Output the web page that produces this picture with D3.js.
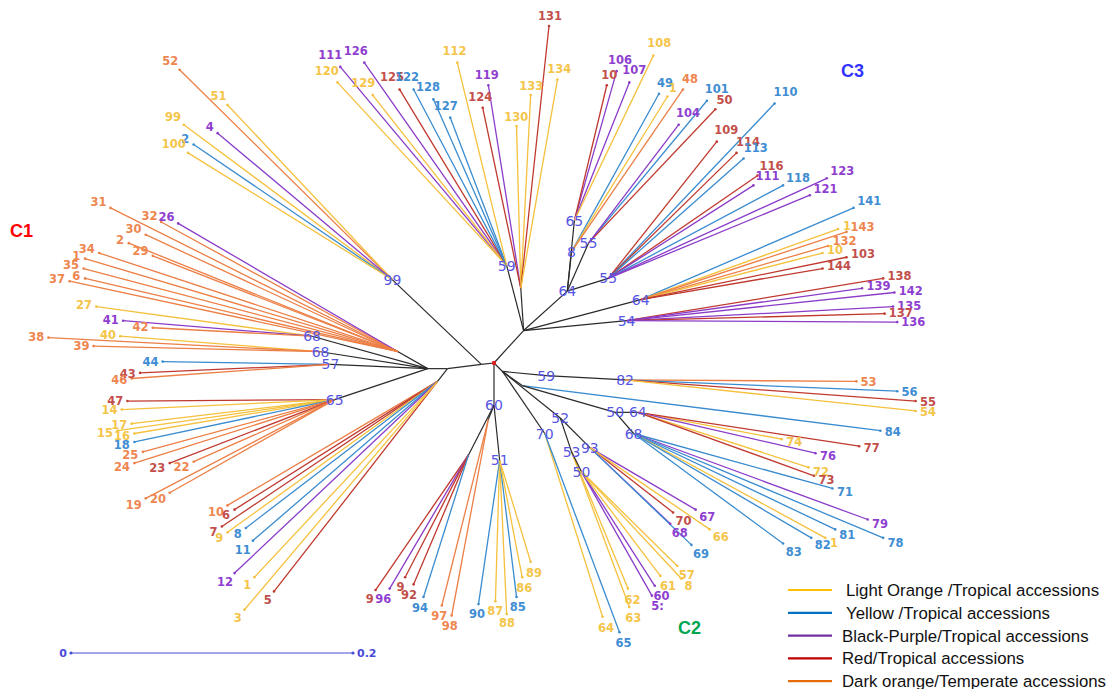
<!DOCTYPE html>
<meta charset="utf-8">
<script src="https://d3js.org/d3.v7.min.js"></script>
<style>
body { margin: 0; background: #fff; }
svg text { font-family: "DejaVu Sans", sans-serif; }
</style>
<div id="tree"></div>
<script>
// internal nodes: [id, parent, x, y, bootstrap]  (x, y in genetic distance from the root)
var nodes = [
  ["R", null, 0, 0, ""],
  ["A", "R", 0.021, -0.023, ""],
  ["T", "A", 0.009, -0.069, "59"],
  ["TR", "A", 0.019, -0.053, ""],
  ["N64a", "A", 0.052, -0.051, "64"],
  ["N65", "N64a", 0.057, -0.101, "65"],
  ["N8", "N64a", 0.055, -0.079, "8"],
  ["N55a", "N64a", 0.067, -0.085, "55"],
  ["N55b", "N64a", 0.081, -0.060, "55"],
  ["N64b", "A", 0.104, -0.045, "64"],
  ["N54", "A", 0.094, -0.030, "54"],
  ["Rr", "R", 0.006, 0.006, ""],
  ["N59", "Rr", 0.037, 0.009, "59"],
  ["N82", "N59", 0.093, 0.012, "82"],
  ["Rb", "Rr", 0.020, 0.016, ""],
  ["N50c", "Rb", 0.086, 0.035, "50"],
  ["N64c", "N50c", 0.102, 0.035, "64"],
  ["N68c", "N50c", 0.099, 0.050, "68"],
  ["N52", "Rr", 0.047, 0.039, "52"],
  ["N93", "N52", 0.068, 0.060, "93"],
  ["N70", "Rr", 0.036, 0.050, "70"],
  ["N53", "N52", 0.055, 0.063, "53"],
  ["N50d", "N53", 0.062, 0.077, "50"],
  ["N60", "R", 0, 0.030, "60"],
  ["NdL", "N60", -0.018, 0.065, ""],
  ["Nd2", "N60", -0.004, 0.040, ""],
  ["N51", "N60", 0.004, 0.069, "51"],
  ["Lb", "R", -0.009, 0.001, ""],
  ["P99", "Lb", -0.072, -0.059, "99"],
  ["Lc", "Lb", -0.033, 0.004, ""],
  ["LL", "Lc", -0.040, 0.013, ""],
  ["Ld", "Lc", -0.047, 0.004, ""],
  ["Nup", "Ld", -0.068, -0.008, ""],
  ["N68a", "Ld", -0.129, -0.019, "68"],
  ["N68b", "Ld", -0.123, -0.008, "68"],
  ["N57", "Ld", -0.116, 0.001, "57"],
  ["N65L", "Ld", -0.113, 0.026, "65"]
];

// leaves: [label, group, parent, x, y]
var leavesTopLeft = [
  ["52", "do", "P99", -0.223, -0.208],
  ["51", "lo", "P99", -0.189, -0.183],
  ["99", "lo", "P99", -0.220, -0.169],
  ["4", "bp", "P99", -0.196, -0.163],
  ["2", "yb", "P99", -0.213, -0.155],
  ["100", "lo", "P99", -0.217, -0.149]
];
var leavesC1 = [
  ["31", "do", "Nup", -0.272, -0.110],
  ["32", "do", "Nup", -0.236, -0.100],
  ["26", "bp", "Nup", -0.224, -0.099],
  ["30", "do", "Nup", -0.247, -0.091],
  ["2", "do", "Nup", -0.259, -0.085],
  ["29", "do", "Nup", -0.242, -0.076],
  ["34", "do", "Nup", -0.280, -0.078],
  ["1", "do", "Nup", -0.290, -0.074],
  ["35", "do", "Nup", -0.291, -0.067],
  ["6", "do", "Nup", -0.290, -0.060],
  ["37", "do", "Nup", -0.301, -0.058],
  ["27", "lo", "N68a", -0.282, -0.040],
  ["41", "bp", "N68a", -0.263, -0.030],
  ["42", "do", "N68a", -0.242, -0.025],
  ["40", "lo", "N68b", -0.265, -0.019],
  ["38", "do", "N68b", -0.316, -0.018],
  ["39", "do", "N68b", -0.284, -0.012],
  ["44", "yb", "N57", -0.235, -0.001],
  ["43", "rd", "N57", -0.251, 0.007],
  ["46", "do", "N57", -0.257, 0.011],
  ["47", "rd", "N65L", -0.260, 0.027],
  ["14", "lo", "N65L", -0.264, 0.033],
  ["17", "lo", "N65L", -0.257, 0.043],
  ["15", "lo", "N65L", -0.267, 0.048],
  ["16", "lo", "N65L", -0.255, 0.050],
  ["18", "yb", "N65L", -0.255, 0.056],
  ["25", "do", "N65L", -0.249, 0.063],
  ["24", "do", "N65L", -0.255, 0.071],
  ["23", "rd", "N65L", -0.230, 0.071],
  ["22", "do", "N65L", -0.213, 0.070],
  ["19", "do", "N65L", -0.247, 0.096],
  ["20", "do", "N65L", -0.230, 0.092],
  ["10", "do", "LL", -0.189, 0.101],
  ["6", "rd", "LL", -0.184, 0.104],
  ["7", "rd", "LL", -0.193, 0.116],
  ["9", "lo", "LL", -0.189, 0.120],
  ["8", "yb", "LL", -0.176, 0.117],
  ["11", "yb", "LL", -0.171, 0.126],
  ["12", "bp", "LL", -0.184, 0.149],
  ["1", "lo", "LL", -0.170, 0.152],
  ["5", "rd", "LL", -0.156, 0.162],
  ["3", "lo", "LL", -0.177, 0.175]
];
var leavesTop = [
  ["111", "bp", "T", -0.109, -0.210],
  ["126", "bp", "T", -0.092, -0.213],
  ["120", "lo", "T", -0.111, -0.199],
  ["129", "lo", "T", -0.086, -0.190],
  ["125", "rd", "T", -0.067, -0.194],
  ["122", "yb", "T", -0.057, -0.194],
  ["128", "yb", "T", -0.043, -0.187],
  ["127", "yb", "T", -0.031, -0.174],
  ["112", "lo", "T", -0.026, -0.213],
  ["119", "bp", "TR", -0.004, -0.197],
  ["124", "rd", "TR", -0.008, -0.181],
  ["130", "lo", "TR", 0.016, -0.168],
  ["133", "lo", "TR", 0.026, -0.190],
  ["131", "rd", "TR", 0.039, -0.239],
  ["134", "lo", "TR", 0.045, -0.201]
];
var leavesC3 = [
  ["106", "bp", "N65", 0.087, -0.207],
  ["10", "rd", "N65", 0.080, -0.197],
  ["107", "bp", "N65", 0.096, -0.199],
  ["108", "lo", "N65", 0.113, -0.218],
  ["49", "yb", "N8", 0.117, -0.191],
  ["1", "lo", "N8", 0.123, -0.189],
  ["48", "do", "N8", 0.134, -0.194],
  ["101", "yb", "N55a", 0.151, -0.186],
  ["50", "rd", "N55a", 0.157, -0.180],
  ["104", "bp", "N55a", 0.131, -0.169],
  ["110", "yb", "N55b", 0.199, -0.184],
  ["109", "rd", "N55b", 0.158, -0.157],
  ["114", "rd", "N55b", 0.172, -0.149],
  ["113", "yb", "N55b", 0.177, -0.145],
  ["116", "rd", "N55b", 0.187, -0.133],
  ["111", "bp", "N55b", 0.184, -0.126],
  ["118", "yb", "N55b", 0.205, -0.126],
  ["123", "bp", "N55b", 0.236, -0.131],
  ["121", "bp", "N55b", 0.224, -0.119],
  ["141", "yb", "N64b", 0.255, -0.110],
  ["1", "lo", "N64b", 0.244, -0.095],
  ["143", "do", "N64b", 0.250, -0.093],
  ["132", "do", "N64b", 0.237, -0.083],
  ["10", "lo", "N64b", 0.233, -0.078],
  ["103", "rd", "N64b", 0.250, -0.075],
  ["144", "rd", "N64b", 0.233, -0.067],
  ["138", "rd", "N54", 0.276, -0.060],
  ["139", "bp", "N54", 0.261, -0.053],
  ["142", "bp", "N54", 0.284, -0.050],
  ["135", "bp", "N54", 0.283, -0.040],
  ["137", "rd", "N54", 0.277, -0.035],
  ["136", "bp", "N54", 0.286, -0.029]
];
var leavesRight = [
  ["53", "do", "N82", 0.257, 0.013],
  ["56", "yb", "N82", 0.286, 0.020],
  ["55", "rd", "N82", 0.299, 0.027],
  ["54", "lo", "N82", 0.299, 0.034],
  ["84", "yb", "Rb", 0.274, 0.048],
  ["74", "lo", "N64c", 0.204, 0.054],
  ["77", "rd", "N64c", 0.259, 0.059],
  ["76", "bp", "N64c", 0.228, 0.064],
  ["72", "lo", "N64c", 0.223, 0.074],
  ["73", "rd", "N64c", 0.227, 0.080],
  ["71", "yb", "N68c", 0.240, 0.089],
  ["79", "bp", "N68c", 0.265, 0.111],
  ["78", "yb", "N68c", 0.276, 0.124],
  ["81", "yb", "N68c", 0.242, 0.118],
  ["1", "lo", "N68c", 0.235, 0.124],
  ["82", "yb", "N68c", 0.225, 0.124],
  ["83", "yb", "N68c", 0.205, 0.128],
  ["70", "rd", "N93", 0.127, 0.106],
  ["67", "bp", "N93", 0.143, 0.104],
  ["68", "bp", "N93", 0.125, 0.114],
  ["69", "yb", "N93", 0.140, 0.129],
  ["66", "lo", "N93", 0.153, 0.118],
  ["64", "lo", "N70", 0.077, 0.180],
  ["65", "yb", "N70", 0.089, 0.191],
  ["62", "lo", "N53", 0.095, 0.160],
  ["63", "lo", "N53", 0.096, 0.173],
  ["60", "bp", "N50d", 0.114, 0.158],
  ["5:", "bp", "N50d", 0.112, 0.165],
  ["61", "lo", "N50d", 0.118, 0.151],
  ["57", "lo", "N50d", 0.130, 0.144],
  ["8", "lo", "N50d", 0.133, 0.153]
];
var leavesBottom = [
  ["9", "rd", "NdL", -0.084, 0.161],
  ["96", "bp", "NdL", -0.074, 0.160],
  ["9", "rd", "NdL", -0.063, 0.152],
  ["92", "rd", "NdL", -0.057, 0.157],
  ["94", "yb", "NdL", -0.050, 0.166],
  ["97", "do", "Nd2", -0.037, 0.172],
  ["98", "do", "Nd2", -0.030, 0.179],
  ["90", "yb", "N51", -0.011, 0.171],
  ["87", "lo", "N51", 0.001, 0.169],
  ["88", "lo", "N51", 0.009, 0.178],
  ["85", "yb", "N51", 0.016, 0.166],
  ["86", "lo", "N51", 0.020, 0.152],
  ["89", "lo", "N51", 0.026, 0.141]
];

var groupKeys = ["lo", "yb", "bp", "rd", "do"];
var groupNames = ["Light Orange /Tropical accessions", "Yellow /Tropical accessions",
                  "Black-Purple/Tropical accessions", "Red/Tropical accessions",
                  "Dark orange/Temperate accessions"];

// styles
var lineColor = {lo: "#f5c13c", yb: "#3a8ccf", bp: "#8a3cc8", rd: "#c0392f", do: "#ec7f45"};
var textColor = {lo: "#f4c54a", yb: "#3f8dd2", bp: "#8f3fd0", rd: "#c24f4b", do: "#ee8650"};
var legendColor = {lo: "#FFC000", yb: "#0070C0", bp: "#7030A0", rd: "#C00000", do: "#E46C0A"};

var width = 1111, height = 689;
var cx = 494, cy = 363, barPx = 282;

var svg = d3.select("#tree").append("svg")
  .attr("width", width)
  .attr("height", height);

// distance scales (0.2 on the scale bar)
var x = d3.scaleLinear().domain([0, 0.2]).range([cx, cx + barPx]);
var y = d3.scaleLinear().domain([0, 0.2]).range([cy, cy + barPx]);

var nodeById = {};
nodes.forEach(function(n) {
  nodeById[n[0]] = {id: n[0], parent: n[1], x: n[2], y: n[3], label: n[4]};
});
var leaves = [].concat(leavesTopLeft, leavesC1, leavesTop, leavesC3, leavesRight, leavesBottom)
  .map(function(l) { return {label: l[0], group: l[1], parent: l[2], x: l[3], y: l[4]}; });
var internal = nodes.filter(function(n) { return n[1]; }).map(function(n) { return nodeById[n[0]]; });

// leaf branches
svg.append("g").selectAll("line")
  .data(leaves)
  .enter()
  .append("line")
    .attr("x1", function(d) { return x(nodeById[d.parent].x); })
    .attr("y1", function(d) { return y(nodeById[d.parent].y); })
    .attr("x2", function(d) { return x(d.x); })
    .attr("y2", function(d) { return y(d.y); })
    .style("stroke", function(d) { return lineColor[d.group]; })
    .style("stroke-width", 1.3);

svg.append("g").selectAll("circle")
  .data(leaves)
  .enter()
  .append("circle")
    .attr("cx", function(d) { return x(d.x); })
    .attr("cy", function(d) { return y(d.y); })
    .attr("r", 1.3)
    .style("fill", function(d) { return lineColor[d.group]; });

// internal branches
svg.append("g").selectAll("line")
  .data(internal)
  .enter()
  .append("line")
    .attr("x1", function(d) { return x(nodeById[d.parent].x); })
    .attr("y1", function(d) { return y(nodeById[d.parent].y); })
    .attr("x2", function(d) { return x(d.x); })
    .attr("y2", function(d) { return y(d.y); })
    .style("stroke", "#2a2a2a")
    .style("stroke-width", 1.2);

svg.append("circle")
  .attr("cx", x(0)).attr("cy", y(0)).attr("r", 2.2)
  .style("fill", "#e02020");

// leaf labels, pushed outward along the branch
svg.append("g").selectAll("text")
  .data(leaves)
  .enter()
  .append("text")
    .text(function(d) { return d.label; })
    .attr("text-anchor", "middle")
    .attr("dy", "0.36em")
    .style("font-size", "11.5px")
    .style("font-weight", "bold")
    .style("fill", function(d) { return textColor[d.group]; })
    .each(function(d) {
      var p = nodeById[d.parent];
      var dx = x(d.x) - x(p.x), dy = y(d.y) - y(p.y);
      var len = Math.sqrt(dx * dx + dy * dy);
      var ux = dx / len, uy = dy / len;
      var w = this.getComputedTextLength();
      var off = 4 + Math.abs(ux) * w / 2 + Math.abs(uy) * 5;
      d3.select(this)
        .attr("x", x(d.x) + ux * off)
        .attr("y", y(d.y) + uy * off);
    });

// bootstrap values
svg.append("g").selectAll("text")
  .data(internal.filter(function(d) { return d.label; }))
  .enter()
  .append("text")
    .attr("x", function(d) { return x(d.x); })
    .attr("y", function(d) { return y(d.y); })
    .attr("dy", "0.36em")
    .attr("text-anchor", "middle")
    .style("font-size", "14px")
    .style("fill", "#5656e2")
    .text(function(d) { return d.label; });

// cluster names
svg.append("text").attr("x", 10).attr("y", 237).text("C1")
  .style("font-family", "Liberation Sans, Arial, sans-serif")
  .style("font-size", "18px").style("font-weight", "bold").style("fill", "#ff0000");
svg.append("text").attr("x", 841).attr("y", 77).text("C3")
  .style("font-family", "Liberation Sans, Arial, sans-serif")
  .style("font-size", "18px").style("font-weight", "bold").style("fill", "#3333ff");
svg.append("text").attr("x", 678).attr("y", 634).text("C2")
  .style("font-family", "Liberation Sans, Arial, sans-serif")
  .style("font-size", "18px").style("font-weight", "bold").style("fill", "#00a651");

// scale bar
var bar = svg.append("g").attr("transform", "translate(" + (71 - cx) + ",653)");
bar.append("line")
  .attr("x1", x(0)).attr("x2", x(0.2)).attr("y1", 0).attr("y2", 0)
  .style("stroke", "#4a4ad8").style("stroke-width", 1.2);
bar.selectAll("circle").data([0, 0.2]).enter().append("circle")
  .attr("cx", function(d) { return x(d); }).attr("cy", 0).attr("r", 1.6)
  .style("fill", "#4a4ad8");
bar.append("text").attr("x", x(0) - 4).attr("y", 4).attr("text-anchor", "end").text("0")
  .style("font-size", "11px").style("font-weight", "bold").style("fill", "#4a4ad8");
bar.append("text").attr("x", x(0.2) + 4).attr("y", 4).text("0.2")
  .style("font-size", "11px").style("font-weight", "bold").style("fill", "#4a4ad8");

// legend
var legend = svg.append("g").selectAll("g")
  .data(groupKeys)
  .enter()
  .append("g")
    .attr("transform", function(d, i) { return "translate(788," + (590 + i * 22.8) + ")"; });
legend.append("line")
  .attr("x1", 0).attr("x2", 44).attr("y1", 0).attr("y2", 0)
  .style("stroke", function(d) { return legendColor[d]; })
  .style("stroke-width", 2.2);
legend.append("text")
  .attr("x", function(d, i) { return i < 2 ? 58 : 54; })
  .attr("y", 6)
  .style("font-family", "Liberation Sans, Arial, sans-serif")
  .style("font-size", "16.8px")
  .style("fill", "#111")
  .text(function(d, i) { return groupNames[i]; });
</script>
